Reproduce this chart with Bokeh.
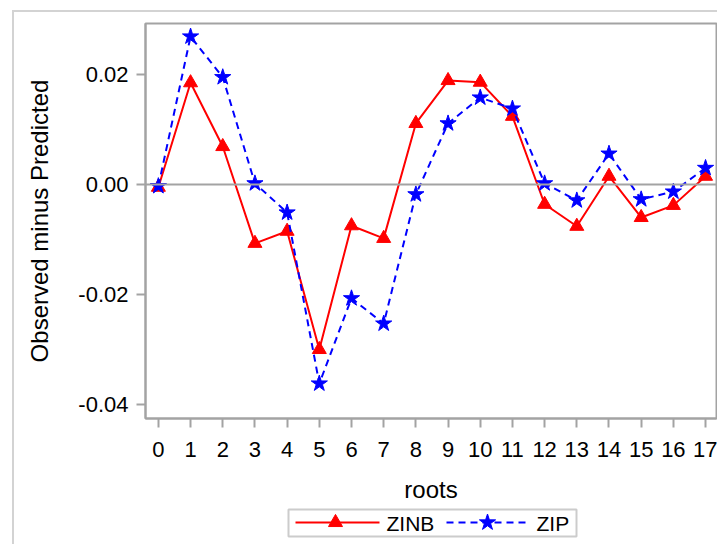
from bokeh.plotting import figure
from bokeh.layouts import column
from bokeh.models import Range1d, FixedTicker, NumeralTickFormatter, Span
from bokeh.core.properties import value
from bokeh.embed import file_html
from bokeh.resources import INLINE

roots = list(range(18))
zinb = [-0.0005, 0.0185, 0.0069, -0.0107, -0.0085, -0.0300, -0.0075, -0.0098, 0.0111,
        0.0189, 0.0186, 0.0124, -0.0036, -0.0076, 0.0015, -0.0060, -0.0038, 0.0015]
zip_ = [-0.0003, 0.0269, 0.0195, 0.0002, -0.0051, -0.0362, -0.0207, -0.0253, -0.0018,
        0.0111, 0.0158, 0.0138, 0.0002, -0.0029, 0.0056, -0.0027, -0.0013, 0.0030]
x_ticks = list(range(18))
y_ticks = [-0.04, -0.02, 0.0, 0.02]
series = ["ZINB", "ZIP"]

FONT = "Liberation Sans"
GREY = "#a3a3a3"
LIGHT = "#d3d3d3"
RED = "#ff0000"
BLUE = "#0000ff"

# ---------------- main chart ----------------
p = figure(width=703, height=494, output_backend="svg", toolbar_location=None,
           x_range=Range1d(-0.40, 17.34), y_range=Range1d(-0.04255, 0.02927),
           min_border_left=131, min_border_right=1, min_border_top=11, min_border_bottom=88)

p.xgrid.visible = False
p.ygrid.visible = False
p.outline_line_color = GREY
p.outline_line_width = 2

p.xaxis.ticker = FixedTicker(ticks=x_ticks)
p.yaxis.ticker = FixedTicker(ticks=y_ticks)
p.yaxis.formatter = NumeralTickFormatter(format="0.00")
p.xaxis.axis_label = "roots"
p.yaxis.axis_label = "Observed minus Predicted"

for ax in (p.xaxis[0], p.yaxis[0]):
    ax.axis_line_color = GREY
    ax.axis_line_width = 2
    ax.major_tick_line_color = GREY
    ax.major_tick_line_width = 2
    ax.major_tick_out = 9
    ax.major_tick_in = 0
    ax.minor_tick_line_color = None
    ax.major_label_text_font = FONT
    ax.major_label_text_font_size = "22px"
    ax.major_label_text_color = "black"
    ax.axis_label_text_font = FONT
    ax.axis_label_text_font_size = "24px"
    ax.axis_label_text_font_style = "normal"
    ax.axis_label_text_color = "black"

p.xaxis.major_label_standoff = 14
p.yaxis.major_label_standoff = 8
p.yaxis.axis_label_standoff = 22
p.xaxis.axis_label_standoff = 16

p.add_layout(Span(location=0, dimension="width", line_color=GREY, line_width=2))

p.line(roots, zinb, line_color=RED, line_width=2)
p.scatter(roots, zinb, marker="triangle", size=14, fill_color=RED, line_color=RED)
p.line(roots, zip_, line_color=BLUE, line_width=2, line_dash="7 5")
p.scatter(roots, zip_, marker="star", size=17, fill_color=BLUE, line_color=BLUE)

# ---------------- legend strip (page-pixel coordinates; frame aligned with chart frame) ----------------
lg = figure(width=703, height=38, output_backend="svg", toolbar_location=None,
            x_range=Range1d(145, 716), y_range=Range1d(544, 506),
            x_axis_type=None, y_axis_type=None,
            min_border_left=131, min_border_right=1, min_border_top=0, min_border_bottom=0)
lg.xgrid.visible = False
lg.ygrid.visible = False
lg.outline_line_color = None

lg.quad(left=[288], right=[576], top=[509], bottom=[536],
        fill_color="white", line_color="#cccccc", line_width=2)
lg.segment(x0=[295], y0=[522], x1=[379], y1=[522], line_color=RED, line_width=2)
lg.scatter(x=[335], y=[522], marker="triangle", size=14, fill_color=RED, line_color=RED)
lg.segment(x0=[446], y0=[522], x1=[528], y1=[522], line_color=BLUE, line_width=2, line_dash="7 5")
lg.scatter(x=[487], y=[522], marker="star", size=17, fill_color=BLUE, line_color=BLUE)
lg.text(x=[386, 536], y=[523, 523], text=series, text_font=value(FONT),
        text_font_size="21px", text_baseline="middle", text_color="black")

layout = column(p, lg, spacing=0,
                styles={"margin-left": "12px", "margin-top": "10px",
                        "border-left": "2px solid " + LIGHT, "border-top": "2px solid " + LIGHT})
open("out.html", "w").write(file_html(layout, INLINE))
